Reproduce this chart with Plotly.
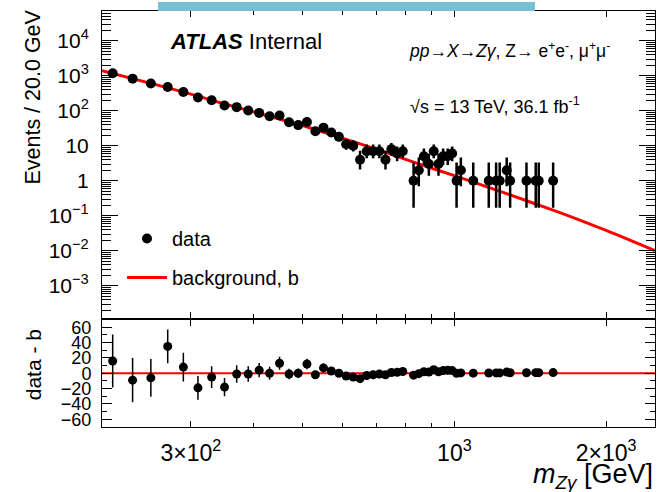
import plotly.graph_objects as go
from plotly.subplots import make_subplots

# bin centres (GeV) of the non-empty 20 GeV bins
mass = [210, 230, 250, 270, 290, 310, 330, 350, 370, 390, 410, 430, 450, 470, 490,
        510, 530, 550, 570, 590, 610, 630, 650, 670, 690, 710, 730, 750, 770, 790,
        830, 850, 870, 890, 910, 930, 950, 970, 990, 1010, 1030, 1090, 1170, 1210,
        1230, 1270, 1290, 1390, 1450, 1470, 1570]
events = [1180, 830, 600, 480, 345, 240, 200, 141, 127, 102, 87, 70, 73, 47, 39,
          48, 26, 33, 24, 18, 11, 10, 4, 7, 7, 7, 4, 8, 6, 7,
          1, 2, 5, 3, 7, 3, 5, 5, 6, 1, 2, 1, 1, 1,
          1, 2, 1, 1, 1, 1, 1]
# poisson error bars
events_err_up = [34.4, 28.8, 24.5, 21.9, 18.6, 15.5, 14.1, 11.9, 11.3, 10.1, 9.3, 8.4, 8.5, 6.9, 6.2,
                 6.9, 6.2, 6.8, 5.9, 5.3, 4.4, 4.3, 3.2, 3.8, 3.8, 3.8, 3.2, 4.0, 3.6, 3.8,
                 2.3, 2.6, 3.4, 2.9, 3.8, 2.9, 3.4, 3.4, 3.6, 2.3, 2.6, 2.3, 2.3, 2.3,
                 2.3, 2.6, 2.3, 2.3, 2.3, 2.3, 2.3]
events_err_down = [34.4, 28.8, 24.5, 21.9, 18.6, 15.5, 14.1, 11.9, 11.3, 10.1, 9.3, 8.4, 8.5, 6.9, 6.2,
                   6.9, 5.1, 5.7, 4.9, 4.2, 3.3, 3.1, 1.9, 2.6, 2.6, 2.6, 1.9, 2.8, 2.4, 2.6,
                   0.83, 1.3, 2.2, 1.6, 2.6, 1.6, 2.2, 2.2, 2.4, 0.83, 1.3, 0.83, 0.83, 0.83,
                   0.83, 1.3, 0.83, 0.83, 0.83, 0.83, 0.83]

# lower panel: data - b
resid = [16, -9, -6, 35, 8, -19, -5, -18, -1, -1, 4, 0, 13, -1, 0,
         12, -2, 7, 3, 0, -3.5, -5, -7, -3, -2, -1, -2, 1, 1.3, 2.3,
         -2.5, -0.5, 2, 1.5, 4.5, 2, 3.5, 3.8, 3.5, 0, 0.5, 0.1, 0.35, 0.45,
         0.5, 1.5, 0.6, 0.7, 0.8, 0.8, 0.9]
resid_err = [34.4, 28.8, 24.5, 21.9, 18.6, 15.5, 14.1, 11.9, 11.3, 10.1, 9.3, 8.4, 8.5, 6.9, 6.2,
             6.9, 5.1, 5.7, 4.9, 4.2, 3.3, 3.2, 2.0, 2.6, 2.6, 2.6, 2.0, 2.8, 2.4, 2.6,
             1.0, 1.4, 2.2, 1.7, 2.6, 1.7, 2.2, 2.2, 2.4, 1.0, 1.4, 1.0, 1.0, 1.0,
             1.0, 1.4, 1.0, 1.0, 1.0, 1.0, 1.0]

# background fit curve
bkg_mass = [200, 250, 300, 350, 400, 450, 500, 600, 700, 800, 900, 1000, 1200, 1400, 1700, 2000, 2500]
bkg_events = [1400, 606, 300, 157, 93, 58, 38, 16.5, 8, 4.1, 2.3, 1.4, 0.57, 0.26, 0.095, 0.038, 0.01]

# axis ticks
y_tickvals = [1e-3, 1e-2, 1e-1, 1, 10, 100, 1000, 10000]
y_ticktext = ["10<sup>−3</sup>", "10<sup>−2</sup>", "10<sup>−1</sup>", "1", "10",
              "10<sup>2</sup>", "10<sup>3</sup>", "10<sup>4</sup>"]
x_tickvals = [300, 1000, 2000]
x_ticktext = ["3×10<sup>2</sup>", "10<sup>3</sup>", "2×10<sup>3</sup>"]
x_minorvals = [400, 500, 600, 700, 800, 900]
r_tickvals = [-60, -40, -20, 0, 20, 40, 60]
r_ticktext = ["−60", "−40", "−20", "0", "20", "40", "60"]

FONT = "Liberation Sans, Arial, Helvetica, sans-serif"

# pixel geometry of the plot frame (667x492 canvas)
H_PLOT = 418.0


def py(p):
    # convert canvas pixel row to paper y
    return (427 - p) / H_PLOT


def px(p):
    return (p - 102) / 553.0


fig = make_subplots(rows=2, cols=1, shared_xaxes=True, vertical_spacing=0,
                    row_heights=[0.74, 0.26])

# background (drawn first so the points sit on top)
fig.add_trace(go.Scatter(
    x=bkg_mass, y=bkg_events, mode="lines", name="background, b", legendgroup="b",
    legendrank=2, line=dict(color="#ff0000", width=3, shape="spline")), row=1, col=1)

# data points
fig.add_trace(go.Scatter(
    x=mass, y=events, mode="markers", name="data", legendgroup="d", legendrank=1,
    marker=dict(color="black", size=10),
    error_y=dict(type="data", symmetric=False, array=events_err_up, arrayminus=events_err_down,
                 color="black", thickness=2.5, width=0)), row=1, col=1)

# residuals
fig.add_trace(go.Scatter(
    x=mass, y=resid, mode="markers", showlegend=False,
    marker=dict(color="black", size=9),
    error_y=dict(type="data", array=resid_err, color="black", thickness=1.5, width=0)), row=2, col=1)
fig.add_hline(y=0, line=dict(color="#ff0000", width=2), layer="below", row=2, col=1)

axis_common = dict(showline=True, linecolor="black", linewidth=1, mirror="ticks",
                   ticks="inside", tickcolor="black", showgrid=False, zeroline=False,
                   tickfont=dict(family=FONT, size=21, color="black"))

fig.update_xaxes(type="log", range=[2.30103, 3.39794], tickmode="array",
                 tickvals=x_tickvals, ticktext=x_ticktext, ticklen=6,
                 minor=dict(tickmode="array", tickvals=x_minorvals, ticks="inside",
                            ticklen=4, tickcolor="black"),
                 **axis_common)
fig.update_xaxes(showticklabels=False, row=1, col=1)
fig.update_xaxes(ticklabelstandoff=5, tickfont=dict(size=23), row=2, col=1)

fig.update_yaxes(type="log", range=[-3.909, 4.852], tickmode="array",
                 tickvals=y_tickvals, ticktext=y_ticktext, ticklen=16,
                 minor=dict(ticks="inside", ticklen=9, dtick="D1", tickcolor="black"),
                 ticklabelstandoff=8, row=1, col=1, **axis_common)
fig.update_yaxes(range=[-70, 70], tickmode="array", tickvals=r_tickvals, ticktext=r_ticktext,
                 ticklen=10, minor=dict(ticks="inside", ticklen=5, dtick=10, tickcolor="black"),
                 ticklabelstandoff=6, row=2, col=1,
                 **{**axis_common, "tickfont": dict(family=FONT, size=18, color="black")})

fig.update_layout(
    width=667, height=492,
    margin=dict(l=102, r=12, t=9, b=65),
    paper_bgcolor="white", plot_bgcolor="white",
    font=dict(family=FONT, color="black"),
    legend=dict(x=px(122), y=py(218), xanchor="left", yanchor="top",
                bgcolor="rgba(0,0,0,0)", font=dict(family=FONT, size=20),
                traceorder="grouped", tracegroupgap=10, itemwidth=40),
)

# panel geometry: top panel 9..317 px, lower panel 319..427 px
fig.update_layout(yaxis=dict(domain=[py(317), 1.0]), yaxis2=dict(domain=[0.0, py(319)]))

annotations = [
    dict(text="Events / 20.0 GeV", x=px(33), y=py(96), textangle=-90, font=dict(size=21.5)),
    dict(text="data - b", x=px(33), y=py(365), textangle=-90, font=dict(size=21)),
    dict(text="<i>m</i><sub><i>Zγ</i></sub> [GeV]", x=1.0, y=py(476),
         xanchor="right", font=dict(size=27)),
    dict(text="<b><i>ATLAS</i></b> Internal", x=px(168), y=py(40),
         xanchor="left", font=dict(size=22)),
    dict(text="<i>pp</i>→<i>X</i>→<i>Zγ</i>, Z→ e<sup>+</sup>e<sup>-</sup>, μ<sup>+</sup>μ<sup>-</sup>",
         x=px(407), y=py(48), xanchor="left", font=dict(size=17.5)),
    dict(text="√s = 13 TeV, 36.1 fb<sup>-1</sup>", x=px(408), y=py(104),
         xanchor="left", font=dict(size=18)),
]
for a in annotations:
    a.setdefault("xanchor", "center")
    fig.add_annotation(xref="paper", yref="paper", showarrow=False,
                       yanchor="middle", **a)

# light blue strip across the top of the image
fig.add_shape(type="rect", xref="paper", yref="paper", x0=px(158), x1=px(535),
              y0=py(9), y1=py(0), fillcolor="#77c0d3", line=dict(width=0))

# the page body has a default 8px margin; drop it so the figure fills the window
fig.write_html("out.html", config={"displayModeBar": False},
               post_script="document.body.style.margin='0px';")
